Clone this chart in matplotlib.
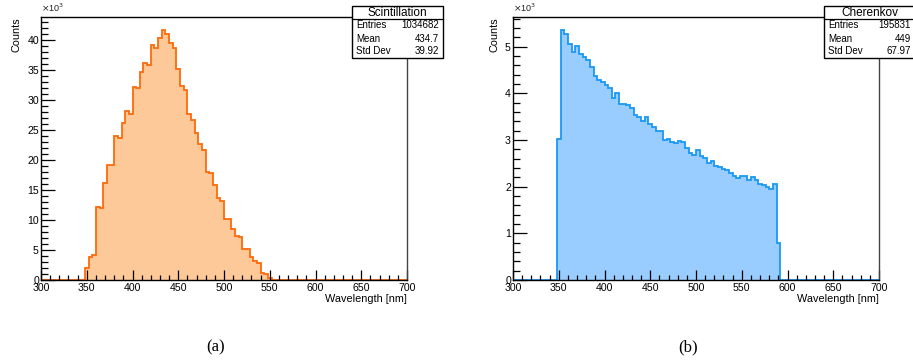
import matplotlib
matplotlib.use("Agg")
import matplotlib.pyplot as plt
import matplotlib.transforms as mtransforms
import numpy as np
from matplotlib.ticker import MultipleLocator
from matplotlib.patches import Rectangle

# binning: 100 bins of 4 nm between 300 and 700 nm
edges = np.linspace(300, 700, 101)

# scintillation photons, counts per bin in units of 1e3, first filled bin starts at 348 nm
scint_start = 348
scint_k = [2.05, 3.8, 4.1, 12.2, 12.0, 16.1, 19.2, 19.2, 23.9, 23.6,
           26.1, 28.1, 27.6, 32.2, 32.0, 34.6, 36.2, 35.8, 39.2, 38.7,
           40.3, 41.7, 40.9, 39.5, 38.7, 35.2, 32.3, 31.6, 27.7, 26.7,
           24.4, 22.6, 21.7, 18.0, 17.8, 15.8, 13.7, 13.1, 10.1, 10.1,
           8.5, 7.4, 7.2, 5.2, 5.2, 3.9, 3.1, 2.9, 1.1, 1.0, 0.4]
scint_stats = [("Entries", "1034682"), ("Mean", "434.7"), ("Std Dev", "39.92")]

# cherenkov photons, counts per bin in units of 1e3
cher_start = 348
cher_k = [3.02, 5.37, 5.27, 5.06, 4.89, 5.01, 4.85, 4.78, 4.71, 4.56,
          4.38, 4.28, 4.25, 4.17, 4.11, 3.91, 4.00, 3.78, 3.77, 3.76,
          3.68, 3.53, 3.49, 3.40, 3.50, 3.35, 3.27, 3.20, 3.19, 3.01,
          3.02, 2.96, 2.93, 2.97, 2.95, 2.82, 2.72, 2.68, 2.78, 2.65,
          2.62, 2.51, 2.56, 2.45, 2.43, 2.37, 2.36, 2.29, 2.24, 2.19,
          2.24, 2.24, 2.15, 2.20, 2.14, 2.05, 2.03, 2.00, 1.95, 2.05,
          0.80]
cher_stats = [("Entries", "195831"), ("Mean", "449"), ("Std Dev", "67.97")]

plt.rcParams['font.family'] = ['Liberation Sans', 'DejaVu Sans']

W, H = 913, 362
fig = plt.figure(figsize=(W / 100, H / 100), dpi=100)


def full_hist(start, vals):
    h = np.zeros(len(edges) - 1)
    i0 = int(round((start - edges[0]) / 4))
    h[i0:i0 + len(vals)] = vals
    return h


def draw(x0, x1, start, vals, fill, line, ymajor, yminor, title, stats, box_x0, caption, cap_x):
    y0, y1 = 17, 280
    ax = fig.add_axes([x0 / W, 1 - y1 / H, (x1 - x0) / W, (y1 - y0) / H])
    h = full_hist(start, vals)
    ax.stairs(h, edges, fill=True, color=fill, zorder=1)
    ax.stairs(h, edges, color=line, linewidth=1.3, zorder=1.5)
    ax.set_xlim(300, 700)
    ax.set_ylim(0, max(vals) * 1.05)

    ax.xaxis.set_major_locator(MultipleLocator(50))
    ax.xaxis.set_minor_locator(MultipleLocator(10))
    ax.yaxis.set_major_locator(MultipleLocator(ymajor))
    ax.yaxis.set_minor_locator(MultipleLocator(yminor))
    ax.tick_params(axis='x', which='major', direction='in', length=7, width=0.9, pad=2, labelsize=7.6)
    ax.tick_params(axis='x', which='minor', direction='in', length=3.5, width=0.9)
    ax.tick_params(axis='y', which='major', direction='in', length=10, width=0.9, pad=1.5, labelsize=7.6)
    ax.tick_params(axis='y', which='minor', direction='in', length=5, width=0.9)
    for s in ax.spines.values():
        s.set_linewidth(1.0)
    ax.spines['right'].set_color('#444444')

    # lift the "0" label a little so it clears the "300" below it
    t0 = ax.yaxis.get_major_ticks()[0].label1
    t0.set_transform(t0.get_transform() + mtransforms.ScaledTranslation(0, 2.5 / 72, fig.dpi_scale_trans))

    ax.set_xlabel("Wavelength [nm]", fontsize=7.8, loc='right', labelpad=1)
    ax.set_ylabel("Counts", fontsize=7.8, loc='top', labelpad=4)
    ax.text(0.0, 1.012, r"$\times$10$^{3}$", transform=ax.transAxes, fontsize=6.5,
            ha='left', va='bottom', color='#222222')

    # statistics box
    bw, row = 91, 13
    fig.patches.append(Rectangle((box_x0 / W, 1 - 58 / H), bw / W, 52 / H,
                                 transform=fig.transFigure, facecolor='white',
                                 edgecolor='black', linewidth=1.0, zorder=5))
    fig.add_artist(plt.Line2D([box_x0 / W, (box_x0 + bw) / W], [1 - 19 / H, 1 - 19 / H],
                              transform=fig.transFigure, color='black', linewidth=0.9, zorder=6))
    fig.text((box_x0 + bw / 2) / W, 1 - 12.5 / H, title, ha='center', va='center',
             fontsize=8.5, zorder=7)
    for k, (lab, val) in enumerate(stats):
        yc = 1 - (25.5 + k * row) / H
        fig.text((box_x0 + 4) / W, yc, lab, ha='left', va='center', fontsize=7, zorder=7)
        fig.text((box_x0 + bw - 4) / W, yc, val, ha='right', va='center', fontsize=7, zorder=7)

    fig.text(cap_x / W, 1 - 347 / H, caption, ha='center', va='center', fontsize=12,
             family=['Liberation Serif', 'DejaVu Serif'])
    return ax


draw(41, 407, scint_start, scint_k, '#fdc998', '#ff6a0a', 5, 1,
     "Scintillation", scint_stats, 352, "(a)", 216)
draw(513, 879, cher_start, cher_k, '#99ccff', '#1a98f5', 1, 0.2,
     "Cherenkov", cher_stats, 824, "(b)", 688)

fig.savefig("out.png", dpi=100)
